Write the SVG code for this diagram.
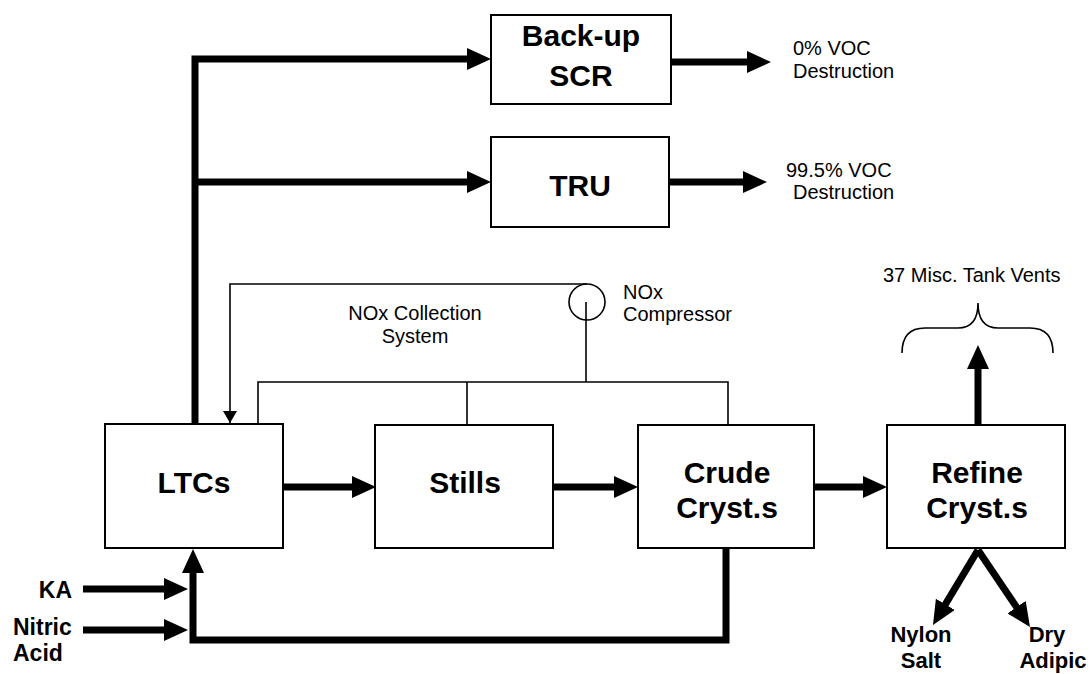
<svg xmlns="http://www.w3.org/2000/svg" width="1090" height="674" viewBox="0 0 1090 674">
<defs>
<style>
.box{fill:#fff;stroke:#000;stroke-width:2}
.thick{fill:none;stroke:#000;stroke-width:7;stroke-linejoin:miter}
.thin{fill:none;stroke:#000;stroke-width:1.6}
.big{font-family:"Liberation Sans",Arial,sans-serif;font-weight:bold;font-size:30px;text-anchor:middle;fill:#000}
.feed{font-family:"Liberation Sans",Arial,sans-serif;font-weight:bold;font-size:23px;fill:#000}
.prod{font-family:"Liberation Sans",Arial,sans-serif;font-weight:bold;font-size:22px;text-anchor:middle;fill:#000}
.lbl{font-family:"Liberation Sans",Arial,sans-serif;font-size:20px;fill:#000}
</style>
<marker id="ah" markerUnits="userSpaceOnUse" markerWidth="24" markerHeight="22" refX="9" refY="11" orient="auto">
<path d="M0,0 L24,11 L0,22 z" fill="#000"/>
</marker>
<marker id="as" markerUnits="userSpaceOnUse" markerWidth="12" markerHeight="14" refX="12" refY="7" orient="auto">
<path d="M0,0 L12,7 L0,14 z" fill="#000"/>
</marker>
</defs>
<rect width="1090" height="674" fill="#fff"/>

<g id="connectors">
<path class="thick" d="M195,425 V59 H476" marker-end="url(#ah)"/>
<path class="thick" d="M195,182 H476" marker-end="url(#ah)"/>
<path class="thick" d="M671,62 H756" marker-end="url(#ah)"/>
<path class="thick" d="M669,182 H752" marker-end="url(#ah)"/>
<path class="thick" d="M283,487 H361" marker-end="url(#ah)"/>
<path class="thick" d="M553,487 H623" marker-end="url(#ah)"/>
<path class="thick" d="M814,487 H872" marker-end="url(#ah)"/>
<path class="thick" d="M978,425 V360" marker-end="url(#ah)"/>
<path class="thick" d="M978,550 L940.7,612.1" marker-end="url(#ah)"/>
<path class="thick" d="M978,550 L1021.6,614.6" marker-end="url(#ah)"/>
<path class="thick" d="M726,548 V640 H193 V564" marker-end="url(#ah)"/>
<path class="thick" d="M83,589 H173" marker-end="url(#ah)"/>
<path class="thick" d="M83,630 H173" marker-end="url(#ah)"/>
<path class="thin" d="M587,284 H230 V423" marker-end="url(#as)"/>
<path class="thin" d="M586,302 V382"/>
<path class="thin" d="M258,425 V382 H728 V425"/>
<path class="thin" d="M467,382 V425"/>
<path class="thin" d="M902,353 Q902,328 925,328 L958,328 Q978,328 978,303 Q978,328 998,328 L1030,328 Q1053,328 1053,353"/>
</g>

<g id="compressor">
<circle cx="587" cy="302" r="18" fill="none" stroke="#000" stroke-width="1.6"/>
<text class="lbl" x="623" y="299">NOx</text>
<text class="lbl" x="623" y="321">Compressor</text>
</g>

<g id="nox-label">
<text class="lbl" x="415" y="320" text-anchor="middle">NOx Collection</text>
<text class="lbl" x="415" y="343" text-anchor="middle">System</text>
</g>

<g id="scr">
<rect class="box" x="491" y="15" width="180" height="89"/>
<text class="big" x="581" y="46">Back-up</text>
<text class="big" x="581" y="86">SCR</text>
</g>

<g id="tru">
<rect class="box" x="491" y="137" width="178" height="90"/>
<text class="big" x="580" y="196">TRU</text>
</g>

<g id="out-scr">
<text class="lbl" x="793" y="55">0% VOC</text>
<text class="lbl" x="793" y="78">Destruction</text>
</g>

<g id="out-tru">
<text class="lbl" x="786" y="177">99.5% VOC</text>
<text class="lbl" x="793" y="199">Destruction</text>
</g>

<g id="ltcs">
<rect class="box" x="105" y="424" width="178" height="124"/>
<text class="big" x="194" y="493">LTCs</text>
</g>

<g id="stills">
<rect class="box" x="375" y="425" width="178" height="123"/>
<text class="big" x="465" y="493">Stills</text>
</g>

<g id="crude">
<rect class="box" x="638" y="425" width="176" height="123"/>
<text class="big" x="727" y="483">Crude</text>
<text class="big" x="727" y="518">Cryst.s</text>
</g>

<g id="refine">
<rect class="box" x="887" y="425" width="178" height="123"/>
<text class="big" x="977" y="483">Refine</text>
<text class="big" x="977" y="518">Cryst.s</text>
</g>

<g id="vents">
<text class="lbl" x="883" y="282">37 Misc. Tank Vents</text>
</g>

<g id="ka">
<text class="feed" x="72" y="598" text-anchor="end">KA</text>
</g>

<g id="nitric">
<text class="feed" x="13" y="635">Nitric</text>
<text class="feed" x="13" y="661">Acid</text>
</g>

<g id="nylon">
<text class="prod" x="921" y="642">Nylon</text>
<text class="prod" x="921" y="668">Salt</text>
</g>

<g id="adipic">
<text class="prod" x="1047" y="642">Dry</text>
<text class="prod" x="1053" y="668">Adipic</text>
</g>
</svg>
